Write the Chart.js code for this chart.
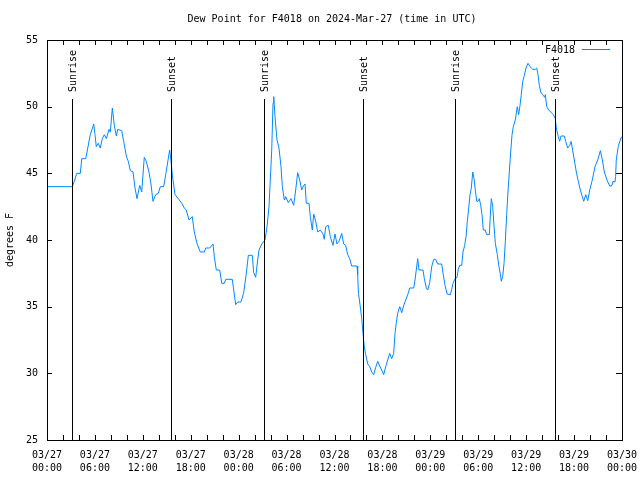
<!DOCTYPE html>
<html lang="en">
<head>
    <meta charset="UTF-8">
    <title>Dew Point for F4018</title>
    <script src="https://cdn.jsdelivr.net/npm/chart.js"></script>
    <style>
        body { margin: 0; background: #fff; }
    </style>
</head>
<body>
    <canvas id="dewChart" width="640" height="480"></canvas>

    <script>
        // hours since 2024-03-27 00:00 UTC
        const hours = [
            0, 3.17, 3.42, 3.72, 4.17, 4.35, 4.85, 5.17, 5.42, 5.85, 6.01, 6.17, 6.42, 6.67, 6.92, 7.18,
            7.43, 7.76, 7.93, 8.18, 8.43, 8.68, 8.85, 9.35, 9.60, 9.93, 10.18, 10.43, 10.77, 11.02, 11.27,
            11.61, 11.86, 12.18, 12.43, 12.77, 13.02, 13.27, 13.61, 13.94, 14.19, 14.61, 14.86, 15.36,
            15.53, 15.69, 16.03, 16.44, 16.87, 17.19, 17.44, 17.78, 18.19, 18.44, 18.78, 19.20, 19.70,
            19.87, 20.37, 20.79, 20.95, 21.20, 21.63, 21.88, 22.20, 22.38, 23.20, 23.38, 23.63, 23.88,
            24.29, 24.63, 24.96, 25.21, 25.71, 25.88, 26.13, 26.38, 26.55, 26.89, 27.30, 27.55, 27.80,
            27.96, 28.14, 28.30, 28.39, 28.55, 28.80, 29.05, 29.30, 29.47, 29.72, 29.89, 30.22, 30.55,
            30.89, 31.14, 31.39, 31.64, 31.89, 32.14, 32.31, 32.47, 32.81, 32.97, 33.22, 33.40, 33.65,
            33.90, 34.22, 34.56, 34.72, 34.90, 35.22, 35.48, 35.81, 36.06, 36.31, 36.56, 36.90, 37.15,
            37.40, 37.65, 37.90, 38.15, 38.82, 38.90, 39.00, 39.23, 39.41, 39.57, 39.73, 39.91, 40.16,
            40.41, 40.66, 40.91, 41.16, 41.41, 41.66, 41.91, 42.16, 42.41, 42.66, 42.91, 43.16, 43.41,
            43.58, 43.74, 43.91, 44.17, 44.42, 44.67, 44.92, 45.17, 45.42, 45.92, 46.08, 46.24, 46.42,
            46.58, 47.08, 47.25, 47.50, 47.67, 47.92, 48.17, 48.42, 48.67, 48.92, 49.42, 49.59, 49.84,
            50.09, 50.50, 50.68, 50.84, 51.09, 51.34, 51.50, 51.68, 51.93, 52.09, 52.30, 52.47, 52.63,
            52.81, 52.97, 53.13, 53.31, 53.47, 53.63, 53.81, 53.97, 54.13, 54.31, 54.47, 54.63, 54.88,
            55.06, 55.39, 55.56, 55.64, 55.81, 55.97, 56.14, 56.39, 56.56, 56.72, 56.89, 57.06, 57.23,
            57.39, 57.56, 57.72, 57.89, 58.06, 58.23, 58.39, 58.64, 58.89, 59.06, 59.23, 59.39, 59.57,
            59.73, 59.98, 60.23, 60.48, 60.82, 61.14, 61.32, 61.48, 61.65, 61.82, 62.07, 62.32, 62.40,
            62.57, 62.82, 63.07, 63.40, 63.65, 63.77, 64.03, 64.20, 64.36, 64.78, 64.95, 65.20, 65.45,
            65.62, 65.78, 66.03, 66.28, 66.53, 66.78, 67.03, 67.21, 67.46, 67.71, 67.96, 68.28, 68.62,
            68.96, 69.29, 69.54, 69.79, 70.12, 70.46, 70.71, 70.87, 71.12, 71.20, 71.28, 71.53, 71.78,
            71.95
        ];
        const dewPoint = [
            44.0, 44.0, 44.4, 45.0, 45.0, 46.1, 46.1, 47.1, 47.9, 48.7, 47.9, 47.0, 47.25, 46.9, 47.6, 47.9,
            47.6, 48.3, 48.1, 49.9, 48.6, 47.8, 48.3, 48.2, 47.4, 46.3, 45.9, 45.2, 45.1, 43.9, 43.1,
            44.1, 43.6, 46.2, 45.9, 45.1, 44.2, 42.9, 43.4, 43.5, 44.0, 44.0, 44.9, 46.75,
            45.9, 44.9, 43.4, 43.1, 42.75, 42.4, 42.25, 41.5, 41.75, 40.6, 39.75, 39.1, 39.1,
            39.4, 39.4, 39.7, 38.75, 37.75, 37.75, 36.75, 36.75, 37.05, 37.05, 36.25, 35.15, 35.35,
            35.35, 36.05, 37.5, 38.85, 38.85, 37.55, 37.2, 38.5, 39.25, 39.7, 40.0, 41.0, 42.5,
            44.5, 46.75, 50.25, 50.75, 49.25, 47.5, 46.9, 45.5, 44.0, 43.0, 43.25, 42.8, 43.1,
            42.6, 43.75, 45.05, 44.5, 43.75, 44.1, 44.2, 42.75, 42.75, 41.75, 40.75, 41.95, 41.4,
            40.6, 40.75, 40.45, 40.05, 41.0, 41.1, 40.25, 39.6, 40.45, 39.7, 39.9, 40.5, 39.7,
            39.6, 38.9, 38.6, 38.05, 38.05, 37.4, 36.0, 35.0, 34.1, 33.0, 32.0, 31.4, 30.7,
            30.5, 30.1, 29.9, 30.45, 30.9, 30.55, 30.25, 29.9, 30.5, 31.0, 31.5, 31.1, 31.5,
            33.0, 33.8, 34.5, 35.0, 34.55, 35.1, 35.5, 35.9, 36.4, 36.4, 37.0, 37.75, 38.6,
            37.75, 37.75, 37.1, 36.4, 36.25, 36.8, 38.0, 38.55, 38.55, 38.2, 38.2, 37.5, 36.6,
            35.95, 35.9, 36.3, 36.75, 37.1, 37.2, 37.8, 38.1, 38.1, 39.1, 39.6, 40.25, 41.4,
            42.4, 43.4, 43.9, 45.1, 44.6, 43.75, 42.9, 42.9, 43.1, 42.6, 41.9, 40.75, 40.75,
            40.4, 40.4, 42.4, 43.1, 42.5, 41.1, 39.75, 38.9, 38.1, 37.6, 36.9, 37.25, 38.25,
            39.9, 41.9, 43.6, 45.1, 46.6, 47.9, 48.5, 49.0, 50.0, 49.4, 50.1, 50.9, 51.9,
            52.25, 52.9, 53.25, 53.0, 52.8, 52.8, 52.9, 52.4, 51.6, 51.1, 50.9, 50.7, 50.9,
            50.0, 49.75, 49.6, 49.4, 49.1, 48.4, 47.75, 47.4, 47.8, 47.8, 47.4, 46.9, 47.1,
            47.4, 46.9, 46.0, 45.1, 44.4, 43.75, 43.25, 42.9, 43.4, 42.95, 43.75, 44.5, 45.5,
            46.0, 46.7, 46.0, 45.1, 44.5, 44.05, 44.05, 44.4, 44.35, 44.75, 46.0, 47.0, 47.5,
            47.75
        ];

        // sunrise / sunset markers (hours)
        const eventHours = [3.17, 15.56, 27.21, 39.61, 51.13, 63.65];
        const eventLabels = ['Sunrise', 'Sunset', 'Sunrise', 'Sunset', 'Sunrise', 'Sunset'];

        const xTickLabels = [
            ['03/27', '00:00'], ['03/27', '06:00'], ['03/27', '12:00'], ['03/27', '18:00'],
            ['03/28', '00:00'], ['03/28', '06:00'], ['03/28', '12:00'], ['03/28', '18:00'],
            ['03/29', '00:00'], ['03/29', '06:00'], ['03/29', '12:00'], ['03/29', '18:00'],
            ['03/30', '00:00']
        ];

        const FONT = 'DejaVu Sans Mono';
        const points = hours.map((h, i) => ({ x: h, y: dewPoint[i] }));

        // title, frame, inward ticks, sun lines, legend
        const gnuplotLook = {
            id: 'gnuplotLook',
            afterDatasetsDraw(chart) {
                const ctx = chart.ctx;
                const a = chart.chartArea;
                const xs = chart.scales.x;
                const ys = chart.scales.y;
                ctx.save();
                ctx.strokeStyle = '#000';
                ctx.fillStyle = '#000';
                ctx.lineWidth = 1;

                // sunrise / sunset lines
                ctx.font = '10px ' + FONT;
                eventHours.forEach((h, i) => {
                    const px = Math.round(xs.getPixelForValue(h)) + 0.5;
                    ctx.beginPath();
                    ctx.moveTo(px, 99);
                    ctx.lineTo(px, a.bottom);
                    ctx.stroke();
                    ctx.save();
                    ctx.translate(px + 1, 92);
                    ctx.rotate(-Math.PI / 2);
                    ctx.textAlign = 'left';
                    ctx.textBaseline = 'middle';
                    ctx.fillText(eventLabels[i], 0, 0);
                    ctx.restore();
                });

                // frame
                ctx.strokeRect(Math.round(a.left) + 0.5, Math.round(a.top) + 0.5,
                    Math.round(a.right - a.left), Math.round(a.bottom - a.top));

                // x ticks every 2 hours, inward, top and bottom
                for (let h = 2; h < 72; h += 2) {
                    const px = Math.round(xs.getPixelForValue(h)) + 0.5;
                    ctx.beginPath();
                    ctx.moveTo(px, a.bottom);
                    ctx.lineTo(px, a.bottom - 5);
                    ctx.moveTo(px, a.top);
                    ctx.lineTo(px, a.top + 5);
                    ctx.stroke();
                }
                // y ticks every 5, inward, left and right
                for (let v = 30; v < 55; v += 5) {
                    const py = Math.round(ys.getPixelForValue(v)) + 0.5;
                    ctx.beginPath();
                    ctx.moveTo(a.left, py);
                    ctx.lineTo(a.left + 5, py);
                    ctx.moveTo(a.right, py);
                    ctx.lineTo(a.right - 6, py);
                    ctx.stroke();
                }

                // legend
                ctx.textAlign = 'right';
                ctx.textBaseline = 'middle';
                ctx.fillText(chart.data.datasets[0].label, 575, 50);
                ctx.strokeStyle = chart.data.datasets[0].borderColor;
                ctx.beginPath();
                ctx.moveTo(582, 49.5);
                ctx.lineTo(610, 49.5);
                ctx.stroke();

                // title
                ctx.fillStyle = '#000';
                ctx.textAlign = 'center';
                ctx.fillText('Dew Point for F4018 on 2024-Mar-27 (time in UTC)', 332, 19);
                ctx.restore();
            }
        };

        const ctx = document.getElementById('dewChart').getContext('2d');
        new Chart(ctx, {
            type: 'line',
            data: {
                datasets: [{
                    label: 'F4018',
                    data: points,
                    borderColor: '#0088ff',
                    borderWidth: 1,
                    pointRadius: 0,
                    tension: 0,
                    fill: false
                }]
            },
            options: {
                responsive: false,
                devicePixelRatio: 1,
                animation: false,
                layout: { padding: { top: 40, right: 18, left: 0, bottom: 0 } },
                plugins: {
                    legend: { display: false },
                    title: { display: false },
                    tooltip: { enabled: false }
                },
                scales: {
                    x: {
                        type: 'linear',
                        min: 0,
                        max: 72,
                        grid: { display: false, drawTicks: false },
                        border: { display: false },
                        afterFit: (s) => {
                            s.height = 40;
                            s.paddingLeft = 0;
                            s.paddingRight = 0;
                        },
                        ticks: {
                            stepSize: 6,
                            autoSkip: false,
                            maxRotation: 0,
                            padding: 9,
                            color: '#000',
                            font: { family: FONT, size: 10, lineHeight: 1.3 },
                            callback: (value, index) => xTickLabels[index]
                        }
                    },
                    y: {
                        min: 25,
                        max: 55,
                        grid: { display: false, drawTicks: false },
                        border: { display: false },
                        afterFit: (s) => {
                            s.width = 47;
                            s.paddingTop = 0;
                            s.paddingBottom = 0;
                        },
                        ticks: {
                            stepSize: 5,
                            padding: 9,
                            color: '#000',
                            font: { family: FONT, size: 10 }
                        },
                        title: {
                            display: true,
                            text: 'degrees F',
                            color: '#000',
                            padding: { top: 4, bottom: 0 },
                            font: { family: FONT, size: 10 }
                        }
                    }
                }
            },
            plugins: [gnuplotLook]
        });
    </script>
</body>
</html>
